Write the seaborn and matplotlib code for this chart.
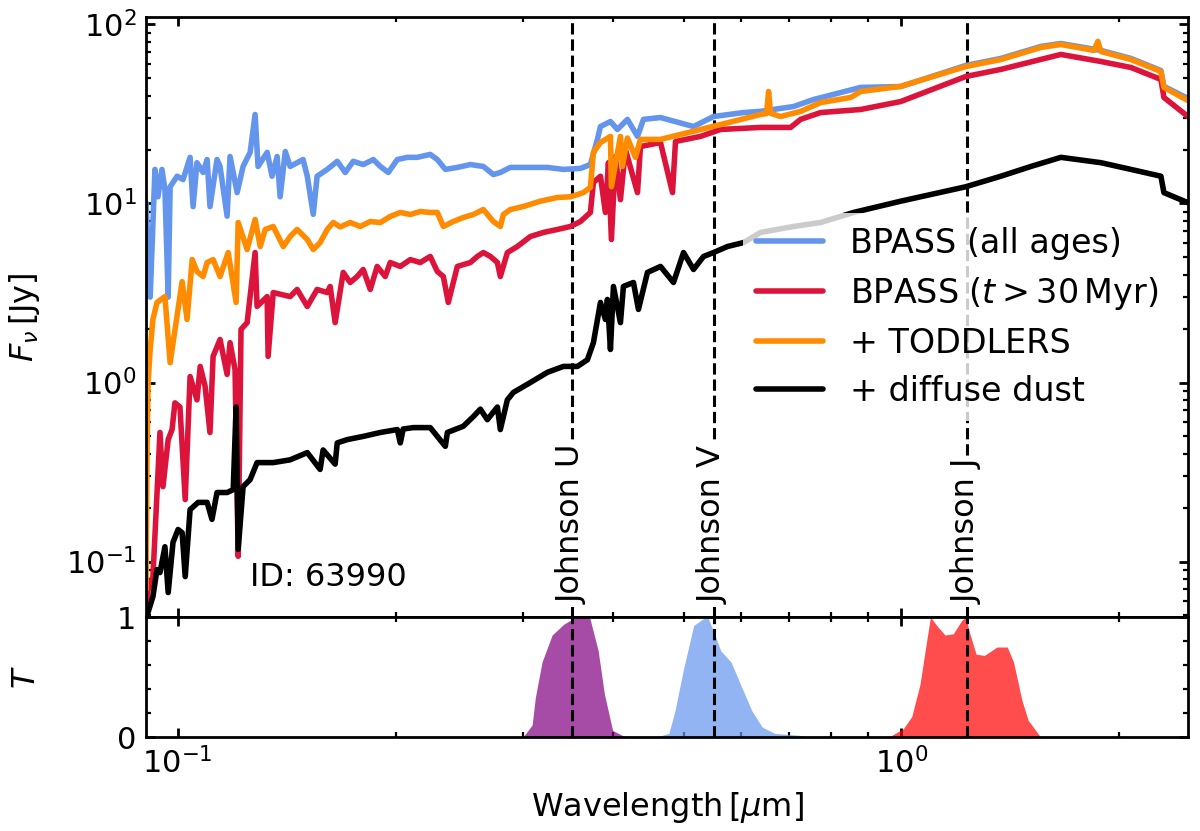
import numpy as np
import pandas as pd
import seaborn as sns
import matplotlib
matplotlib.use("Agg")
import matplotlib.pyplot as plt
from matplotlib.ticker import MultipleLocator, NullFormatter

# SED curves (wavelength in micron, flux in Jy)
blue_lam = [0.0904, 0.0916, 0.0930, 0.0939, 0.0951, 0.0960, 0.0970, 0.0976, 0.0998, 0.1017,
            0.1040, 0.1050, 0.1063, 0.1084, 0.1098, 0.1108, 0.1133, 0.1144, 0.1170, 0.1181,
            0.1208, 0.1231, 0.1259, 0.1279, 0.1291, 0.1329, 0.1350, 0.1372, 0.1385, 0.1408,
            0.1430, 0.1490, 0.1510, 0.1539, 0.1558, 0.1609, 0.1661, 0.1704, 0.1748, 0.1804,
            0.1863, 0.1905, 0.1954, 0.2011, 0.2076, 0.2143, 0.2233, 0.2284, 0.2343, 0.2434,
            0.2537, 0.2644, 0.2730, 0.2791, 0.2881, 0.3071, 0.3242, 0.3411, 0.3601, 0.3717,
            0.3801, 0.3838, 0.3962, 0.4051, 0.4182, 0.4318, 0.4401, 0.4646, 0.5161, 0.5500,
            0.6051, 0.6388, 0.7096, 0.7563, 0.8783, 0.9977, 1.2272, 1.3722, 1.5588, 1.6609,
            1.8863, 2.0756, 2.2834, 2.3053, 2.4888]
blue_flux = [10.1, 3.0, 15.5, 10.9, 15.5, 12.0, 3.0, 12.4, 14.2, 13.6,
             18.1, 9.6, 16.9, 14.9, 17.6, 9.6, 17.6, 16.1, 8.5, 18.3,
             11.5, 16.1, 19.3, 31.4, 16.1, 19.3, 14.2, 18.3, 10.9, 19.5,
             16.1, 17.6, 14.2, 8.7, 14.2, 15.5, 17.2, 14.9, 17.2, 16.5,
             17.6, 16.1, 14.9, 17.6, 18.1, 18.1, 18.8, 17.6, 15.5, 15.9,
             16.5, 16.1, 14.5, 14.9, 15.9, 15.9, 15.9, 15.5, 15.7, 16.5,
             22.8, 26.9, 28.7, 25.9, 29.5, 23.7, 29.5, 30.2, 26.9, 30.6,
             32.2, 32.7, 34.8, 38.1, 44.5, 45.0, 59.0, 64.6, 75.4, 78.3,
             71.6, 64.6, 55.3, 45.1, 38.6]

red_lam = [0.0904, 0.0910, 0.0924, 0.0945, 0.0954, 0.0970, 0.0982, 0.0991, 0.1007, 0.1024,
           0.1040, 0.1063, 0.1074, 0.1091, 0.1108, 0.1119, 0.1144, 0.1170, 0.1181, 0.1200,
           0.1212, 0.1223, 0.1247, 0.1279, 0.1287, 0.1329, 0.1333, 0.1355, 0.1430, 0.1462,
           0.1510, 0.1558, 0.1609, 0.1624, 0.1650, 0.1693, 0.1731, 0.1770, 0.1804, 0.1845,
           0.1886, 0.1935, 0.1966, 0.2030, 0.2096, 0.2163, 0.2233, 0.2284, 0.2328, 0.2365,
           0.2434, 0.2537, 0.2594, 0.2644, 0.2704, 0.2765, 0.2791, 0.2854, 0.2946, 0.3071,
           0.3201, 0.3347, 0.3488, 0.3601, 0.3717, 0.3753, 0.3838, 0.3899, 0.3937, 0.3974,
           0.4026, 0.4090, 0.4156, 0.4318, 0.4359, 0.4646, 0.4827, 0.4873, 0.5277, 0.5624,
           0.6388, 0.7029, 0.7256, 0.7733, 0.8783, 0.9977, 1.2272, 1.3722, 1.6609, 1.8863,
           2.0756, 2.2834, 2.3053, 2.4888]
red_flux = [0.052, 0.070, 0.082, 0.526, 0.262, 0.48, 0.546, 0.77, 0.73, 0.222,
            1.08, 0.80, 1.23, 0.95, 0.526, 1.40, 1.74, 1.11, 1.67, 1.18,
            0.107, 1.98, 2.16, 5.32, 2.66, 3.02, 1.40, 3.18, 3.02, 3.31,
            2.66, 3.31, 3.18, 3.44, 2.16, 4.12, 3.62, 3.91, 4.28, 3.31,
            4.45, 3.91, 4.68, 4.45, 4.86, 4.68, 5.06, 4.17, 3.91, 2.80,
            4.45, 4.68, 5.06, 5.32, 5.06, 4.68, 3.91, 5.32, 5.75, 6.54,
            6.89, 7.16, 7.44, 7.93, 8.91, 13.1, 14.2, 8.91, 16.9, 6.29,
            18.3, 10.5, 20.0, 11.5, 20.8, 21.9, 11.5, 22.2, 23.7, 25.9,
            26.6, 26.6, 29.5, 32.2, 33.5, 37.1, 51.2, 56.1, 68.0, 62.1,
            57.5, 49.3, 39.1, 30.6]

orange_lam = [0.0904, 0.0907, 0.0910, 0.0916, 0.0924, 0.0936, 0.0960, 0.0976, 0.1014, 0.1030,
              0.1047, 0.1063, 0.1084, 0.1098, 0.1119, 0.1144, 0.1174, 0.1204, 0.1212, 0.1247,
              0.1279, 0.1300, 0.1321, 0.1355, 0.1399, 0.1430, 0.1462, 0.1510, 0.1539, 0.1573,
              0.1609, 0.1640, 0.1677, 0.1731, 0.1787, 0.1845, 0.1905, 0.1966, 0.2030, 0.2096,
              0.2163, 0.2233, 0.2284, 0.2328, 0.2403, 0.2481, 0.2561, 0.2644, 0.2730, 0.2791,
              0.2818, 0.2881, 0.3003, 0.3170, 0.3347, 0.3488, 0.3635, 0.3717, 0.3753, 0.3838,
              0.3962, 0.3974, 0.4090, 0.4116, 0.4182, 0.4290, 0.4359, 0.4646, 0.5277, 0.5624,
              0.6388, 0.6511, 0.6553, 0.6595, 0.6808, 0.7256, 0.7733, 0.8508, 0.8783, 0.9977,
              1.2272, 1.3722, 1.5588, 1.6609, 1.8448, 1.8684, 1.8863, 2.0756, 2.2834, 2.3053,
              2.4888]
orange_flux = [0.070, 0.42, 1.0, 1.53, 2.25, 2.80, 3.02, 1.29, 3.66, 2.25,
               4.86, 4.17, 3.91, 4.68, 4.86, 3.91, 5.32, 2.80, 7.83, 5.53,
               8.14, 5.75, 7.16, 7.44, 5.75, 6.54, 7.16, 6.29, 5.53, 6.05,
               7.16, 7.83, 7.4, 7.83, 7.44, 7.93, 7.83, 8.46, 8.91, 8.68,
               9.02, 8.91, 8.91, 7.44, 7.93, 8.35, 8.68, 9.25, 7.93, 7.44,
               8.68, 9.25, 9.62, 10.3, 10.8, 10.9, 11.5, 12.3, 19.3, 21.9,
               23.7, 12.4, 23.7, 16.1, 23.2, 18.1, 22.8, 22.8, 25.9, 27.6,
               31.4, 31.8, 42.2, 31.9, 30.6, 32.7, 36.6, 39.1, 42.2, 45.1,
               58.2, 63.7, 74.4, 77.3, 71.6, 80.4, 70.6, 63.7, 54.6, 44.5,
               37.6]

black_lam = [0.0907, 0.0924, 0.0936, 0.0945, 0.0960, 0.0970, 0.0985, 0.1001, 0.1014, 0.1024,
             0.1040, 0.1067, 0.1098, 0.1115, 0.1133, 0.1170, 0.1193, 0.1204, 0.1212, 0.1231,
             0.1259, 0.1287, 0.1355, 0.1430, 0.1510, 0.1573, 0.1588, 0.1650, 0.1661, 0.1715,
             0.1804, 0.1905, 0.2011, 0.2030, 0.2049, 0.2116, 0.2233, 0.2343, 0.2358, 0.2481,
             0.2561, 0.2619, 0.2678, 0.2765, 0.2791, 0.2854, 0.2909, 0.3071, 0.3242, 0.3411,
             0.3567, 0.3682, 0.3753, 0.3838, 0.3899, 0.3924, 0.3962, 0.4000, 0.4090, 0.4129,
             0.4263, 0.4331, 0.4457, 0.4646, 0.4842, 0.4999, 0.5161, 0.5328, 0.5500, 0.5750,
             0.6051, 0.6388, 0.7096, 0.7733, 0.8589, 0.9977, 1.2272, 1.3722, 1.5099, 1.6609,
             1.8863, 2.0756, 2.2834, 2.3053, 2.4888]
black_flux = [0.050, 0.0637, 0.0902, 0.0868, 0.121, 0.0671, 0.128, 0.151, 0.145, 0.0824,
              0.195, 0.214, 0.214, 0.172, 0.243, 0.243, 0.252, 0.73, 0.117, 0.262,
              0.287, 0.357, 0.357, 0.37, 0.406, 0.327, 0.42, 0.35, 0.46, 0.48,
              0.50, 0.526, 0.546, 0.46, 0.55, 0.56, 0.56, 0.44, 0.526, 0.57,
              0.645, 0.71, 0.62, 0.73, 0.546, 0.80, 0.88, 1.0, 1.14, 1.23,
              1.23, 1.34, 1.67, 2.80, 2.25, 2.91, 1.53, 3.44, 2.16, 3.44,
              3.62, 2.56, 4.12, 4.45, 3.62, 5.32, 4.28, 5.06, 5.32, 5.75,
              6.05, 6.89, 7.44, 7.83, 8.91, 10.3, 12.4, 14.2, 16.1, 18.1,
              16.9, 15.5, 14.2, 11.5, 10.1]

# filter transmission curves
u_lam = [0.3000, 0.3088, 0.3120, 0.3187, 0.3291, 0.3415, 0.3525, 0.3601, 0.3711, 0.3810,
         0.3886, 0.3990, 0.4124, 0.4207]
u_trans = [0.0, 0.10, 0.33, 0.625, 0.85, 0.94, 0.99, 1.0, 0.99, 0.72,
           0.36, 0.055, 0.01, 0.0]
v_lam = [0.4584, 0.4771, 0.4866, 0.4996, 0.5164, 0.5336, 0.5408, 0.5516, 0.5626, 0.5815,
         0.6011, 0.6211, 0.6421, 0.6682, 0.7233, 0.7427]
v_trans = [0.0, 0.03, 0.22, 0.56, 0.93, 0.99, 0.99, 0.86, 0.72, 0.625,
           0.42, 0.22, 0.083, 0.03, 0.014, 0.0]
j_lam = [0.9609, 1.0064, 1.0334, 1.0610, 1.0822, 1.0968, 1.1187, 1.1487, 1.1794, 1.2110,
         1.2269, 1.2434, 1.2682, 1.3022, 1.3551, 1.4003, 1.4287, 1.4668, 1.4966, 1.5265,
         1.5569]
j_trans = [0.0, 0.07, 0.17, 0.44, 0.78, 1.0, 0.93, 0.85, 0.86, 0.97,
           1.0, 0.86, 0.69, 0.68, 0.75, 0.75, 0.625, 0.31, 0.14, 0.07,
           0.0]

band_names = ["U", "V", "J"]
band_centers = [0.351, 0.550, 1.231]

sns.set_style("ticks", {"axes.edgecolor": "black", "text.color": "black",
                        "axes.labelcolor": "black", "xtick.color": "black",
                        "ytick.color": "black"})
plt.rcParams.update({
    "font.family": ["DejaVu Sans"],
    "mathtext.fontset": "dejavusans",
    "axes.linewidth": 1.0,
    "xtick.direction": "in", "ytick.direction": "in",
    "xtick.major.size": 3.2, "ytick.major.size": 3.2,
    "xtick.minor.size": 1.8, "ytick.minor.size": 1.8,
    "xtick.major.width": 1.0, "ytick.major.width": 1.0,
    "xtick.minor.width": 0.8, "ytick.minor.width": 0.8,
    "xtick.labelsize": 11, "ytick.labelsize": 11,
})

fig = plt.figure(figsize=(6, 4.155), dpi=200)
gs = fig.add_gridspec(2, 1, height_ratios=[5, 1], hspace=0,
                      left=0.1217, right=0.99, top=0.9795, bottom=0.1131)
ax1 = fig.add_subplot(gs[0])
ax2 = fig.add_subplot(gs[1], sharex=ax1)
ax1.set_xscale("log")
ax1.set_yscale("log")

curves = [
    (blue_lam, blue_flux, "cornflowerblue", "BPASS (all ages)"),
    (red_lam, red_flux, "crimson", r"BPASS ($t > 30\,\mathrm{Myr}$)"),
    (orange_lam, orange_flux, "darkorange", "+ TODDLERS"),
    (black_lam, black_flux, "black", "+ diffuse dust"),
]
for lam, flux, col, lab in curves:
    df = pd.DataFrame({"lam": lam, "flux": flux})
    sns.lineplot(data=df, x="lam", y="flux", ax=ax1, color=col, lw=2,
                 label=lab, estimator=None, sort=False)

for lam, tr, col in [(u_lam, u_trans, "purple"), (v_lam, v_trans, "cornflowerblue"),
                     (j_lam, j_trans, "red")]:
    ax2.fill_between(lam, tr, color=col, alpha=0.7, lw=0)

for name, c in zip(band_names, band_centers):
    ax1.axvline(c, color="k", ls="--", lw=1.1, zorder=1)
    ax2.axvline(c, color="k", ls="--", lw=1.1, zorder=3)
    ax1.text(c, 0.058, f"Johnson {name}", rotation=90, ha="center", va="bottom",
             fontsize=11.5, zorder=4,
             bbox=dict(facecolor="white", edgecolor="none", pad=1.0))

ax1.text(0.1, 0.04, "ID: 63990", transform=ax1.transAxes, fontsize=11.5,
         ha="left", va="bottom")

ax1.set_xlim(0.0904, 2.489)
ax1.set_ylim(0.049, 110)
ax2.set_ylim(0, 1)
ax2.set_yticks([0, 1])
ax2.yaxis.set_minor_locator(MultipleLocator(0.2))
ax2.xaxis.set_minor_formatter(NullFormatter())

for ax in (ax1, ax2):
    ax.tick_params(which="both", top=True, right=True)
ax1.tick_params(labelbottom=False)

ax1.set_xlabel("")
ax1.set_ylabel(r"$F_\nu\,[\mathrm{Jy}]$", fontsize=11.5)
ax2.set_ylabel(r"$T$", fontsize=11.5)
ax2.set_xlabel(r"Wavelength$\,[\mu\mathrm{m}]$", fontsize=11.5)
ax1.yaxis.set_label_coords(-0.1, 0.5)
ax2.yaxis.set_label_coords(-0.1, 0.5)

ax1.legend(loc="center right", fontsize=12, framealpha=0.8, edgecolor="none",
           fancybox=False, handlelength=2.0, labelspacing=0.45)

fig.savefig("out.png", dpi=200)
